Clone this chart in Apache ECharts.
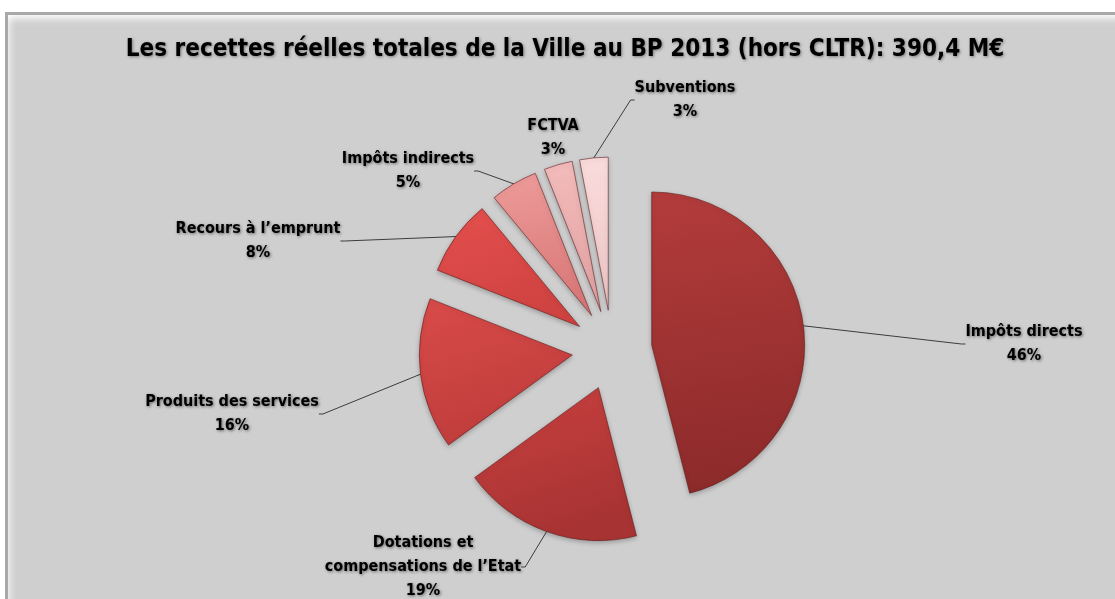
<!DOCTYPE html>
<html>
<head>
<meta charset="utf-8">
<script src="https://cdn.jsdelivr.net/npm/echarts@6/dist/echarts.min.js"></script>
<style>
html,body{margin:0;padding:0;background:#fff;width:1115px;height:599px;overflow:hidden}
#frame{position:absolute;left:5px;top:12px;width:1120px;height:600px;background:#cfcfcf;
  border-top:3px solid #a9a9a9;border-left:3px solid #a9a9a9;box-sizing:border-box;
  box-shadow: inset 0 7px 7px -3px rgba(255,255,255,0.85), inset 6px 0 6px -3px rgba(255,255,255,0.6);}
#chart{position:absolute;left:0;top:0;width:1115px;height:599px}
</style>
</head>
<body>
<div id="frame"></div>
<div id="chart"></div>
<script>
// ---- data ----
const titleText = 'Les recettes réelles totales de la Ville au BP 2013 (hors CLTR): 390,4 M€';
const categories = [
  'Impôts directs',
  'Dotations et\ncompensations de l’Etat',
  'Produits des services',
  'Recours à l’emprunt',
  'Impôts indirects',
  'FCTVA',
  'Subventions'
];
const values = [46, 19, 16, 8, 5, 3, 3];

// ---- styles / layout ----
const sliceColors = [
  ['#b33c3b', '#8c2a2a'],
  ['#c9413f', '#a83333'],
  ['#d94b49', '#bf3d3c'],
  ['#e5504e', '#cf4341'],
  ['#ee9c9b', '#d77776'],
  ['#f4bcbc', '#e0a0a0'],
  ['#fadcdc', '#ebc5c5']
];
const labelCenters = [[1024, 344], [423, 567], [232, 414], [258, 241], [408, 171], [553, 138], [685, 100]];
const showLine = [true, true, true, true, true, false, true];
const CX = 612, CY = 350, R = 153, OFFSET = 40;
const FONT = '"Liberation Sans Narrow","DejaVu Sans Condensed","Arial Narrow",sans-serif';

const total = values.reduce((a, b) => a + b, 0);
let acc = 0;
const series = values.map((v, i) => {
  const mid = (acc + v / 2) / total * 2 * Math.PI;
  acc += v;
  const cx = CX + OFFSET * Math.sin(mid);
  const cy = CY - OFFSET * Math.cos(mid);
  return {
    type: 'pie',
    silent: true,
    animation: false,
    startAngle: 90,
    clockwise: true,
    radius: R,
    center: [cx, cy],
    avoidLabelOverlap: false,
    z: i === 0 ? 3 : 2,
    data: values.map((w, j) => ({
      name: categories[j],
      value: w,
      itemStyle: j === i ? {
        color: {type: 'linear', x: 0, y: 0, x2: 0.3, y2: 1, colorStops: [
          {offset: 0, color: sliceColors[j][0]}, {offset: 1, color: sliceColors[j][1]}]},
        borderColor: 'rgba(90,20,20,0.55)',
        borderWidth: 1,
        shadowBlur: 5,
        shadowColor: 'rgba(0,0,0,0.25)',
        shadowOffsetY: 2
      } : {color: 'rgba(0,0,0,0)', borderWidth: 0},
      label: {show: j === i},
      labelLine: {show: j === i && showLine[i]}
    })),
    label: {
      show: true,
      position: 'outside',
      formatter: p => p.name + '\n' + Math.round(p.percent) + '%',
      fontFamily: FONT,
      fontWeight: 'bold',
      fontSize: 16,
      lineHeight: 24,
      color: '#000',
      textShadowColor: 'rgba(0,0,0,0.5)',
      textShadowBlur: 3,
      textShadowOffsetX: 1,
      textShadowOffsetY: 1
    },
    labelLine: {
      show: true,
      length: 10,
      length2: 4,
      minTurnAngle: 90,
      lineStyle: {color: '#3c3c3c', width: 1}
    },
    labelLayout: p => p.dataIndex === i ? {
      x: labelCenters[i][0], y: labelCenters[i][1], align: 'center', verticalAlign: 'middle'
    } : {}
  };
});

const chart = echarts.init(document.getElementById('chart'), null, {renderer: 'canvas'});
chart.setOption({
  backgroundColor: 'transparent',
  title: {
    text: titleText,
    left: 560,
    textAlign: 'center',
    top: 33,
    textStyle: {
      fontFamily: FONT,
      fontWeight: 'bold',
      fontSize: 24,
      color: '#000',
      textShadowColor: 'rgba(0,0,0,0.4)',
      textShadowBlur: 3,
      textShadowOffsetX: 1,
      textShadowOffsetY: 1
    }
  },
  series: series
});
</script>
</body>
</html>
